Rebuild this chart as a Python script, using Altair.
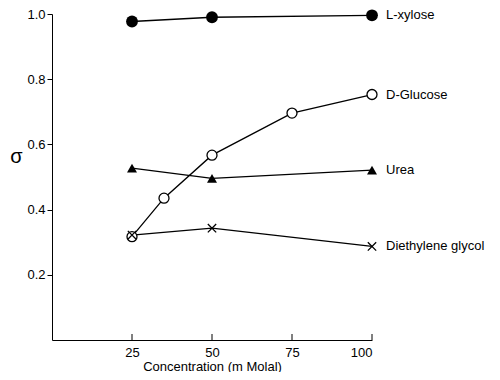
import altair as alt
import pandas as pd

series_names = ["L-xylose", "D-Glucose", "Urea", "Diethylene glycol"]
xylose_x = [25, 50, 100]
xylose_y = [0.977, 0.99, 0.996]
glucose_x = [25, 35, 50, 75, 100]
glucose_y = [0.317, 0.435, 0.567, 0.696, 0.753]
urea_x = [25, 50, 100]
urea_y = [0.527, 0.496, 0.521]
deg_x = [25, 50, 100]
deg_y = [0.322, 0.343, 0.287]
x_ticks = [25, 50, 75, 100]
y_ticks = [0.2, 0.4, 0.6, 0.8, 1.0]

rows = []
for name, xs, ys in zip(series_names, [xylose_x, glucose_x, urea_x, deg_x],
                        [xylose_y, glucose_y, urea_y, deg_y]):
    for xv, yv in zip(xs, ys):
        rows.append({"series": name, "conc": xv, "sigma": yv})
df = pd.DataFrame(rows)
last = df.groupby("series", sort=False).tail(1)
ticks_df = pd.DataFrame({"conc": x_ticks})

H = 326

x = alt.X("conc:Q", scale=alt.Scale(domain=[0, 100], nice=False),
          axis=alt.Axis(values=x_ticks, title="Concentration (m Molal)", grid=False,
                        ticks=False, domainColor="black",
                        labelFont="Liberation Sans", labelFontSize=13, labelColor="black",
                        labelPadding=6, titleFont="Liberation Sans", titleFontSize=13,
                        titleFontWeight="normal", titleColor="black", titlePadding=1))
y = alt.Y("sigma:Q", scale=alt.Scale(domain=[0, 1.0], nice=False),
          axis=alt.Axis(values=y_ticks, format=".1f", title="σ", grid=False,
                        tickSize=5, domainColor="black", tickColor="black",
                        labelFont="Liberation Sans", labelFontSize=13, labelColor="black",
                        titleFont="Liberation Sans", titleFontSize=20, titleFontWeight="normal",
                        titleColor="black", titleAngle=0, titleX=-36, titleY=152))

base = alt.Chart(df)
lines = base.mark_line(color="black", strokeWidth=1.3).encode(x=x, y=y, detail="series:N")

xticks = alt.Chart(ticks_df).mark_rule(color="black", strokeWidth=1).encode(
    x=x, y=alt.value(H - 6), y2=alt.value(H))

def pts(name, **kw):
    return base.transform_filter(alt.datum.series == name).mark_point(**kw).encode(x=x, y=y)

p1 = pts("L-xylose", shape="circle", filled=True, color="black", size=140, opacity=1)
p2 = pts("D-Glucose", shape="circle", filled=True, fill="white", stroke="black",
         strokeWidth=1.3, size=100, opacity=1)
p3 = pts("Urea", shape="triangle-up", filled=True, color="black", size=100, opacity=1)
p4 = pts("Diethylene glycol", shape="M-1,-1L1,1M-1,1L1,-1", filled=False, color="black",
         strokeWidth=1.3, size=70, opacity=1)

labels = alt.Chart(last).mark_text(align="left", dx=14, font="Liberation Sans",
                                   fontSize=13, color="black").encode(
    x=x, y=y, text="series:N")

chart = alt.layer(lines, xticks, p1, p2, p3, p4, labels).properties(
    width=320, height=H,
    autosize=alt.AutoSizeParams(type="none"),
    padding={"left": 44, "top": 6, "right": 120, "bottom": 32},
).configure_view(stroke=None)

chart.save("out.html", embed_options={"renderer": "svg", "actions": False})
